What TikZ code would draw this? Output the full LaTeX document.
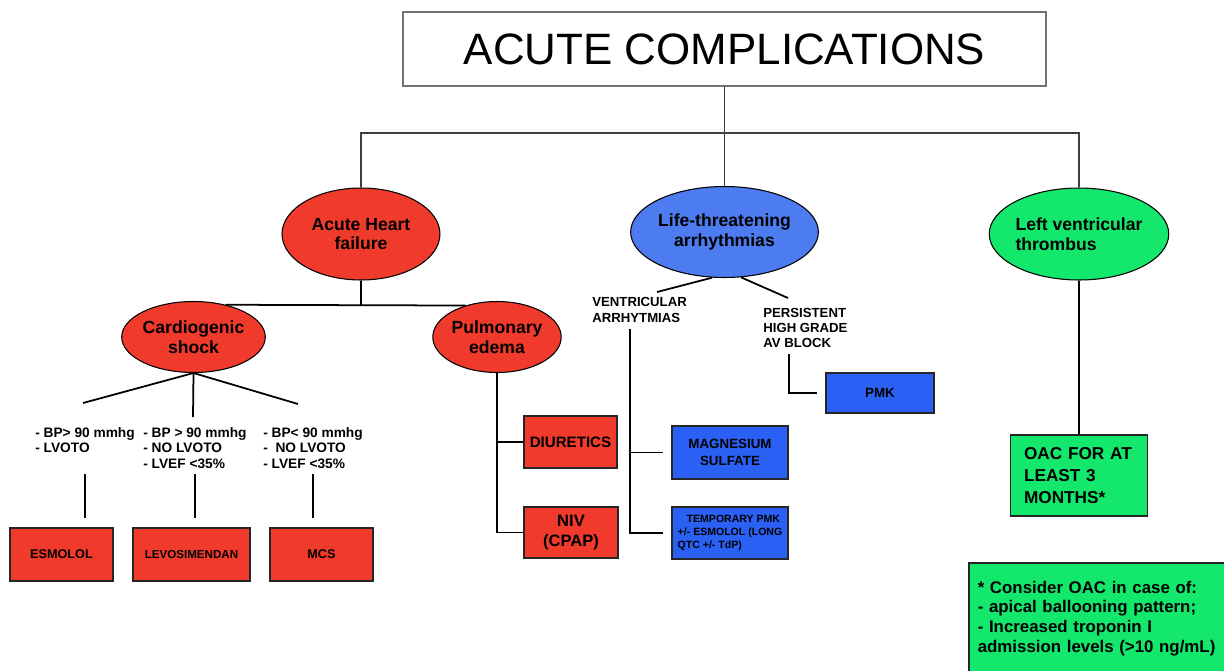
\documentclass[tikz,border=0pt]{standalone}
\usepackage{fontspec}
\setmainfont{Liberation Sans}
\usetikzlibrary{shapes.geometric}
\definecolor{hfred}{HTML}{F03A2B}
\definecolor{arblue}{HTML}{4C7CF0}
\definecolor{pmkblue}{HTML}{2A60F4}
\definecolor{lvgreen}{HTML}{14E86C}
\newcommand{\fs}[2]{\fontsize{#1}{#2}\selectfont}
\begin{document}
\begin{tikzpicture}[x=0.02cm, y=-0.02cm,
  oval/.style={draw, ellipse, inner sep=0pt, line width=0.6pt, font=\fs{10}{11.3}\bfseries, align=center},
  tbox/.style={draw=black!85, rectangle, inner sep=0pt, line width=0.9pt, font=\fs{7.2}{9}\bfseries, align=center},
  cond/.style={anchor=north west, inner sep=0pt, align=left, font=\fs{7.8}{8.8}\bfseries},
  link/.style={line width=1pt},
  lead/.style={shorten <=3.5pt, shorten >=4.5pt}]
\useasboundingbox (0,0) rectangle (1224,670);
\node[draw=black!55, line width=0.7pt, minimum width=12.86cm, minimum height=1.48cm, font=\fs{25}{30}] (title) at (724.5,49) {ACUTE COMPLICATIONS};
\node[oval, fill=hfred, minimum width=3.16cm, minimum height=1.84cm] (ahf) at (361,234) {Acute Heart\\failure};
\node[oval, fill=arblue, minimum width=3.16cm, minimum height=1.82cm] (lta) at (724.5,232) {Life-threatening\\arrhythmias};
\node[oval, fill=lvgreen, minimum width=3.2cm, minimum height=1.84cm, align=left] (lvt) at (1079,234) {Left ventricular\\thrombus};
\coordinate (bus) at (724.5,133);
\draw[black!75, line width=0.6pt] (ahf.north) |- (bus) -| (lvt.north);
\draw[black!75, line width=0.6pt] (title.south) -- (lta.north);
% heart failure
\node[oval, fill=hfred, minimum width=2.34cm, minimum height=1.42cm] (cs) at (193.5,337) {Cardiogenic\\shock};
\node[oval, fill=hfred, minimum width=2.34cm, minimum height=1.42cm] (pe) at (497,337) {Pulmonary\\edema};
\draw[link] (cs.45) -- (pe.135);
\draw[link] (ahf.south) -- (ahf.south |- cs.45);
\coordinate (f1) at (83,403);
\coordinate (f2) at (193,417);
\coordinate (f3) at (298,404);
\foreach \f in {f1,f2,f3}
  \draw[link] (cs.south) -- (\f);
\node[cond] (c1) at (35,427) {- BP> 90 mmhg\\- LVOTO};
\node[cond] (c2) at (143,427) {- BP > 90 mmhg\\- NO LVOTO\\- LVEF <35\%};
\node[cond] (c3) at (263,427) {- BP< 90 mmhg\\- \ NO LVOTO\\- LVEF <35\%};
\node[tbox, fill=hfred, minimum width=2.06cm, minimum height=1.06cm] (esm) at (61.5,554.5) {ESMOLOL};
\node[tbox, fill=hfred, minimum width=2.34cm, minimum height=1.06cm, font=\fs{6.6}{8}\bfseries] (lev) at (191.5,554.5) {LEVOSIMENDAN};
\node[tbox, fill=hfred, minimum width=2.06cm, minimum height=1.06cm] (mcs) at (321.5,554.5) {MCS};
\foreach \c/\b in {c1/esm,c2/lev,c3/mcs}
  \draw[link, shorten <=3pt, shorten >=5pt] (\c |- c2.south) -- (\c |- \b.north);
\node[tbox, fill=hfred, minimum width=1.86cm, minimum height=1.04cm, font=\fs{8.6}{10}\bfseries] (diu) at (570.5,442) {DIURETICS};
\node[tbox, fill=hfred, minimum width=1.88cm, minimum height=1.02cm, font=\fs{9.4}{10.9}\bfseries] (niv) at (571,532.5) {NIV\\(CPAP)};
\draw[link] (pe.south) |- (diu.west);
\draw[link] (pe.south) |- (niv.west);
% arrhythmias
\coordinate (v1) at (657,292);
\coordinate (v2) at (788,298);
\draw[link] (lta.255) -- (v1);
\draw[link] (lta.290) -- (v2);
\node[cond, font=\fs{7.5}{8.8}\bfseries] (va) at (592,297) {VENTRICULAR\\ARRHYTMIAS};
\node[cond, font=\fs{7.5}{8.5}\bfseries] (avb) at (763,308) {PERSISTENT\\HIGH GRADE\\AV BLOCK};
\node[tbox, fill=pmkblue, minimum width=2.16cm, minimum height=0.8cm, font=\fs{7.6}{9}\bfseries] (pmk) at (880,393) {PMK};
\node[tbox, fill=pmkblue, minimum width=2.32cm, minimum height=1.06cm, font=\fs{7.6}{9.5}\bfseries] (mag) at (730,452.5) {MAGNESIUM\\SULFATE};
\node[tbox, fill=pmkblue, minimum width=2.32cm, minimum height=1.04cm, align=left, font=\fs{6}{7.4}\bfseries] (tmp) at (730,533) {\hspace*{0.18cm}TEMPORARY PMK\\+/- ESMOLOL (LONG\\QTC +/- TdP)};
\draw[link, lead] ([xshift=0.76cm]va.south west) |- (mag.west);
\draw[link, lead] ([xshift=0.76cm]va.south west) |- (tmp.west);
\draw[link, lead] ([xshift=0.52cm]avb.south west) |- (pmk.west);
% thrombus
\node[tbox, fill=lvgreen, minimum width=2.74cm, minimum height=1.62cm, text width=2.2cm, align=left, font=\fs{9.8}{12.7}\bfseries] (oac) at (1079,475.5) {OAC FOR AT\\LEAST 3\\MONTHS*};
\draw[link] (lvt.south) -- (oac.north);
\begin{scope}
\clip (0,0) rectangle (1224,670);
\node[tbox, fill=lvgreen, anchor=north west, inner xsep=0.18cm, inner ysep=0.36cm, text width=5.2cm, align=left, font=\fs{9.6}{11.2}\bfseries] (note) at (968,562) {* Consider OAC in case of:\\- apical ballooning pattern;\\- Increased troponin I\\admission levels (>10 ng/mL)};
\end{scope}
\end{tikzpicture}
\end{document}
